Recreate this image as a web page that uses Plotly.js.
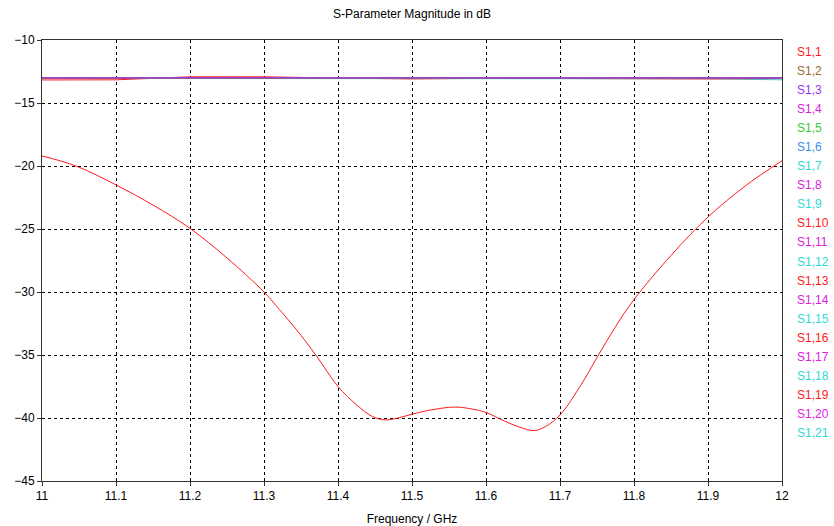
<!DOCTYPE html>
<html>
<head>
<meta charset="utf-8">
<script src="https://cdn.plot.ly/plotly-3.0.1.min.js"></script>
<style>
html,body{margin:0;padding:0;background:#fff;}
#chart{width:834px;height:526px;}
</style>
</head>
<body>
<div id="chart"></div>
<script>
// ---- Data ----
const traceNames = ["S1,1","S1,2","S1,3","S1,4","S1,5","S1,6","S1,7","S1,8","S1,9","S1,10","S1,11",
  "S1,12","S1,13","S1,14","S1,15","S1,16","S1,17","S1,18","S1,19","S1,20","S1,21"];
const traceColors = ["#ff1a1a","#9a6a30","#9933ff","#e020e0","#30cc30","#3b8bf0","#30d8d8","#e020e0","#30d8d8","#ff1a1a","#e020e0",
  "#30d8d8","#ff1a1a","#e020e0","#30d8d8","#ff1a1a","#e020e0","#30d8d8","#ff1a1a","#e020e0","#30d8d8"];

// S1,1 (reflection)
const freqS11 = [11.0, 11.046, 11.1, 11.15, 11.2, 11.25, 11.3, 11.321, 11.344, 11.37, 11.4, 11.425, 11.447, 11.465,
  11.483, 11.5, 11.525, 11.559, 11.588, 11.6, 11.626, 11.644, 11.665, 11.681, 11.7, 11.726, 11.752, 11.775, 11.8,
  11.85, 11.9, 11.95, 12.0];
const magS11 = [-19.2, -20.0, -21.5, -23.1, -24.95, -27.3, -30.0, -31.4, -33.0, -35.0, -37.5, -38.95, -39.9, -40.15,
  -39.97, -39.7, -39.37, -39.13, -39.37, -39.56, -40.27, -40.7, -41.0, -40.66, -39.76, -37.6, -35.0, -32.75, -30.6,
  -27.1, -24.05, -21.6, -19.58];

// S1,2 ... S1,21 (transmission, all near -13 dB)
const freqFlat = [11.0, 11.1, 11.2, 11.3, 11.4, 11.5, 11.6, 11.7, 11.8, 11.9, 12.0];
const magS12 = [-13.01, -13.01, -13.0, -13.0, -13.01, -13.01, -13.0, -13.0, -13.01, -13.01, -13.02];
const magS13 = [-13.0, -13.0, -13.0, -12.99, -13.0, -13.0, -12.99, -12.99, -13.0, -13.0, -13.01];
const magS14 = [-13.03, -13.02, -13.02, -13.02, -13.02, -13.03, -13.01, -13.02, -13.03, -13.03, -13.04];
const magS15 = [-13.04, -13.03, -13.03, -13.03, -13.03, -13.04, -13.03, -13.03, -13.04, -13.04, -13.05];
const magS16 = [-13.03, -13.03, -13.02, -13.02, -13.03, -13.04, -13.03, -13.02, -13.03, -13.04, -13.04];
const magS17 = [-13.02, -13.03, -13.03, -13.03, -13.03, -13.03, -13.03, -13.03, -13.02, -13.03, -13.04];
const magS18 = [-13.03, -13.02, -13.02, -13.03, -13.03, -13.04, -13.02, -13.02, -13.03, -13.03, -13.04];
const magS19 = [-13.02, -13.03, -13.03, -13.03, -13.03, -13.03, -13.03, -13.03, -13.03, -13.04, -13.05];
const magS110 = [-13.04, -13.03, -13.02, -13.02, -13.03, -13.04, -13.03, -13.03, -13.03, -13.04, -13.04];
const magS111 = [-13.03, -13.02, -13.02, -13.02, -13.02, -13.03, -13.02, -13.02, -13.03, -13.03, -13.04];
const magS112 = [-13.03, -13.03, -13.03, -13.03, -13.03, -13.04, -13.03, -13.03, -13.03, -13.04, -13.04];
const magS113 = [-13.03, -13.03, -13.02, -13.03, -13.03, -13.04, -13.03, -13.03, -13.03, -13.03, -13.04];
const magS114 = [-13.03, -13.02, -13.02, -13.02, -13.03, -13.03, -13.02, -13.02, -13.03, -13.03, -13.04];
const magS115 = [-13.03, -13.03, -13.03, -13.03, -13.03, -13.04, -13.03, -13.03, -13.04, -13.04, -13.05];
const magS116 = [-13.04, -13.03, -13.03, -13.03, -13.03, -13.04, -13.03, -13.03, -13.03, -13.04, -13.04];
const magS117 = [-13.03, -13.02, -13.02, -13.02, -13.03, -13.03, -13.02, -13.02, -13.03, -13.03, -13.04];
const magS118 = [-13.03, -13.03, -13.03, -13.03, -13.03, -13.04, -13.03, -13.03, -13.03, -13.04, -13.05];
const magS119 = [-13.17, -13.16, -12.92, -12.92, -13.02, -13.09, -13.04, -13.06, -13.09, -13.09, -13.06];
const magS120 = [-13.01, -13.0, -13.0, -13.0, -13.0, -13.01, -12.96, -12.99, -13.0, -13.0, -13.0];
const magS121 = [-13.0, -13.06, -13.06, -13.06, -13.06, -13.07, -13.06, -13.04, -13.06, -13.08, -13.16];

const flatMags = [magS12, magS13, magS14, magS15, magS16, magS17, magS18, magS19, magS110, magS111, magS112,
  magS113, magS114, magS115, magS116, magS117, magS118, magS119, magS120, magS121];

// drawing order of the near -13 dB traces (index into flatMags), last drawn is on top
const drawOrder = [19, 18, 17, 16, 15, 14, 13, 12, 11, 10, 9, 8, 7, 6, 5, 4, 3, 2, 0, 1];

// ---- Traces ----
const data = [];
data.push({x: freqS11, y: magS11, type: 'scatter', mode: 'lines', name: traceNames[0],
  line: {color: traceColors[0], width: 1, shape: 'spline', smoothing: 1}});
drawOrder.forEach(i => {
  data.push({x: freqFlat, y: flatMags[i], type: 'scatter', mode: 'lines', name: traceNames[i + 1],
    line: {color: traceColors[i + 1], width: 1}});
});

// ---- Legend as coloured text ----
const plotTop = 40, plotBottom = 481, legendTop = 52, legendStep = 19.05;
const annotations = traceNames.map((n, i) => ({
  text: n, xref: 'paper', yref: 'paper', x: (795 - 42) / 740,
  y: (plotBottom - (legendTop + legendStep * i)) / (plotBottom - plotTop),
  xanchor: 'left', yanchor: 'middle', showarrow: false,
  font: {family: 'Liberation Sans, Arial, sans-serif', size: 12, color: traceColors[i]}
}));

const axisFont = {family: 'Liberation Sans, Arial, sans-serif', size: 12, color: '#000'};
const layout = {
  width: 834, height: 526,
  margin: {l: 42, r: 52, t: 40, b: 45, pad: 0},
  paper_bgcolor: '#fff', plot_bgcolor: '#fff',
  showlegend: false,
  title: {text: 'S-Parameter Magnitude in dB', x: 0.5, xref: 'paper', y: 1 - 14 / 526, yref: 'container',
    yanchor: 'middle', font: {family: 'Liberation Sans, Arial, sans-serif', size: 12, color: '#000'}},
  xaxis: {
    range: [11, 12], tick0: 11, dtick: 0.1, tickformat: '.1~f',
    showgrid: true, gridcolor: '#000', griddash: 'dot', gridwidth: 1,
    showline: true, linecolor: '#333', linewidth: 1, mirror: true,
    ticks: 'outside', ticklen: 4, tickcolor: '#333',
    zeroline: false, tickfont: axisFont,
    title: {text: 'Frequency / GHz', font: axisFont, standoff: 12}
  },
  yaxis: {
    range: [-45, -10], tick0: -45, dtick: 5,
    showgrid: true, gridcolor: '#000', griddash: 'dot', gridwidth: 1,
    showline: true, linecolor: '#333', linewidth: 1, mirror: true,
    ticks: 'outside', ticklen: 4, tickcolor: '#333',
    zeroline: false, tickfont: axisFont
  },
  annotations: annotations
};

Plotly.newPlot('chart', data, layout, {displayModeBar: false, staticPlot: true});
</script>
</body>
</html>
